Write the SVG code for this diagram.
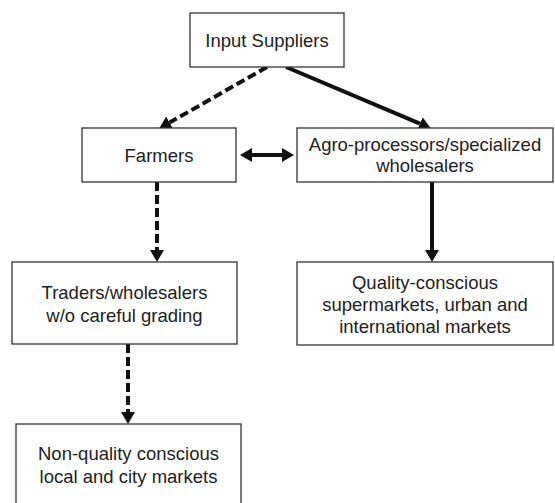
<svg xmlns="http://www.w3.org/2000/svg" width="555" height="503" viewBox="0 0 555 503">
<style>
.box{fill:#fff;stroke:#333;stroke-width:1.3}
.t{font-family:"Liberation Sans",Arial,sans-serif;font-size:18.5px;fill:#222;text-anchor:middle}
.c{fill:none;stroke:#111;stroke-width:4}
.d{stroke-dasharray:9,4}
</style>
<defs>
<marker id="ah" markerUnits="userSpaceOnUse" markerWidth="12" markerHeight="14" refX="0" refY="7" orient="auto-start-reverse" viewBox="0 0 12 14">
<path d="M0,0 L12,7 L0,14 z" fill="#111"/>
</marker>
</defs>
<rect width="555" height="503" fill="#fff"/>
<g id="connectors">
<path class="c d" d="M267,67 L169.6,122.6" marker-end="url(#ah)"/>
<path class="c" d="M286,67 L419.9,123.7" marker-end="url(#ah)"/>
<path class="c" d="M252,155 L282,155" marker-start="url(#ah)" marker-end="url(#ah)"/>
<path class="c d" d="M157,182 L157,250" marker-end="url(#ah)"/>
<path class="c" d="M432,182 L432,250" marker-end="url(#ah)"/>
<path class="c d" d="M128,344 L128,412" marker-end="url(#ah)"/>
</g>
<g id="input-suppliers">
<rect class="box" x="190" y="13" width="154" height="54"/>
<text class="t" x="267" y="46.5">Input Suppliers</text>
</g>
<g id="farmers">
<rect class="box" x="82" y="128" width="154" height="54"/>
<text class="t" x="159" y="161.5">Farmers</text>
</g>
<g id="agro-processors">
<rect class="box" x="297" y="128" width="256" height="54"/>
<text class="t" x="425" y="150.5">Agro-processors/specialized</text>
<text class="t" x="425" y="172">wholesalers</text>
</g>
<g id="traders">
<rect class="box" x="12" y="262" width="225" height="82"/>
<text class="t" x="124.5" y="299">Traders/wholesalers</text>
<text class="t" x="124.5" y="321.5">w/o careful grading</text>
</g>
<g id="quality-markets">
<rect class="box" x="297" y="262" width="256" height="83"/>
<text class="t" x="425" y="289">Quality-conscious</text>
<text class="t" x="425" y="311">supermarkets, urban and</text>
<text class="t" x="425" y="333">international markets</text>
</g>
<g id="non-quality-markets">
<rect class="box" x="16" y="424" width="225" height="90"/>
<text class="t" x="128.5" y="460">Non-quality conscious</text>
<text class="t" x="128.5" y="483">local and city markets</text>
</g>
</svg>
